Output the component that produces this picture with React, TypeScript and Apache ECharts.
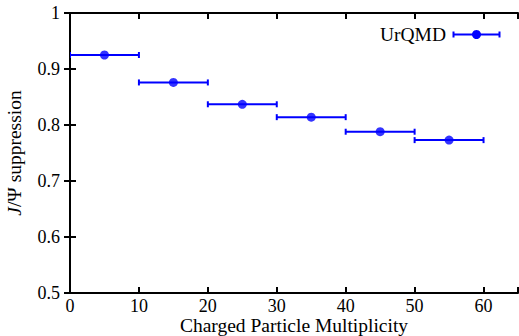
import React, { useEffect, useRef } from "react";
import * as echarts from "echarts";

const xCenters = [5, 15, 25, 35, 45, 55];
const xHalfWidths = [5, 5, 5, 5, 5, 5];
const suppression = [0.925, 0.876, 0.837, 0.814, 0.788, 0.773];
const xTicks = [0, 10, 20, 30, 40, 50, 60];
const yTicks = [0.5, 0.6, 0.7, 0.8, 0.9, 1];
const seriesName = "UrQMD";

const FONT = "'Liberation Serif', 'Times New Roman', serif";
const FS = 18;
const NFS = 19.5;
const BLUE = "#0000ff";

export default function App() {
  const ref = useRef<HTMLDivElement>(null);
  useEffect(() => {
    if (!ref.current) return;
    const chart = echarts.init(ref.current, undefined, { renderer: "svg" });
    const errData = xCenters.map((x, i) => [x - xHalfWidths[i], x + xHalfWidths[i], suppression[i]]);
    const pts = xCenters.map((x, i) => [x, suppression[i]]);
    const axisCommon = {
      axisLine: { show: true, lineStyle: { color: "#000", width: 2 } },
      axisTick: { show: true, inside: true, length: 6, lineStyle: { color: "#000", width: 2 } },
      splitLine: { show: false },
    };
    chart.setOption({
      animation: false,
      textStyle: { fontFamily: FONT },
      grid: { left: 70, right: 1, top: 13, bottom: 43, outerBoundsMode: "none", containLabel: false },
      xAxis: [
        {
          type: "value",
          min: 0,
          max: 65,
          interval: 10,
          position: "bottom",
          ...axisCommon,
          axisLabel: {
            color: "#000",
            fontFamily: FONT,
            fontSize: FS,
            margin: 4,
            formatter: (v: number) => (xTicks.includes(v) ? String(v) : ""),
          },
          name: "Charged Particle Multiplicity",
          nameLocation: "middle",
          nameGap: 22,
          nameMoveOverlap: false,
          nameTextStyle: { color: "#000", fontFamily: FONT, fontSize: NFS },
        },
        {
          type: "value",
          min: 0,
          max: 65,
          interval: 10,
          position: "top",
          ...axisCommon,
          axisLabel: { show: false },
        },
      ],
      yAxis: [
        {
          type: "value",
          min: 0.5,
          max: 1,
          interval: 0.1,
          position: "left",
          ...axisCommon,
          axisLabel: {
            color: "#000",
            fontFamily: FONT,
            fontSize: FS,
            margin: 10,
            formatter: (v: number) => {
              const t = yTicks.find((y) => Math.abs(y - v) < 1e-6);
              return t === undefined ? "" : String(t);
            },
          },
          name: "{i|J}/Ψ suppression",
          nameLocation: "middle",
          nameRotate: 90,
          nameGap: 46,
          nameMoveOverlap: false,
          nameTextStyle: {
            color: "#000",
            fontFamily: FONT,
            fontSize: NFS,
            rich: {
              i: { fontStyle: "italic", fontFamily: FONT, fontSize: NFS, color: "#000" },
            },
          },
        },
        {
          type: "value",
          min: 0.5,
          max: 1,
          interval: 0.1,
          position: "right",
          ...axisCommon,
          axisLabel: { show: false },
        },
      ],
      graphic: [
        {
          type: "text",
          right: 73,
          top: 24,
          style: { text: seriesName, font: `${NFS}px ${FONT}`, fill: "#000" },
        },
        {
          type: "group",
          right: 17,
          top: 29,
          children: [
            { type: "line", shape: { x1: 0, y1: 4, x2: 46, y2: 4 }, style: { stroke: BLUE, lineWidth: 2 } },
            { type: "line", shape: { x1: 0, y1: 1, x2: 0, y2: 7 }, style: { stroke: BLUE, lineWidth: 2 } },
            { type: "line", shape: { x1: 46, y1: 1, x2: 46, y2: 7 }, style: { stroke: BLUE, lineWidth: 2 } },
            { type: "circle", shape: { cx: 23, cy: 4, r: 4.5 }, style: { fill: BLUE } },
          ],
        },
      ],
      series: [
        {
          type: "custom",
          name: seriesName,
          clip: true,
          data: errData,
          encode: { x: [0, 1], y: 2 },
          renderItem: (params: any, api: any) => {
            const p0 = api.coord([api.value(0), api.value(2)]);
            const p1 = api.coord([api.value(1), api.value(2)]);
            const h = 3;
            const style = { stroke: BLUE, lineWidth: 2 };
            return {
              type: "group",
              children: [
                { type: "line", shape: { x1: p0[0], y1: p0[1], x2: p1[0], y2: p1[1] }, style },
                { type: "line", shape: { x1: p0[0], y1: p0[1] - h, x2: p0[0], y2: p0[1] + h }, style },
                { type: "line", shape: { x1: p1[0], y1: p1[1] - h, x2: p1[0], y2: p1[1] + h }, style },
              ],
            };
          },
          z: 2,
        },
        {
          type: "scatter",
          name: seriesName,
          data: pts,
          symbol: "circle",
          symbolSize: 9,
          itemStyle: { color: BLUE },
          z: 3,
        },
      ],
    });
    return () => chart.dispose();
  }, []);
  return <div ref={ref} style={{ width: 519, height: 336, position: "absolute", left: 0, top: 0 }} />;
}
